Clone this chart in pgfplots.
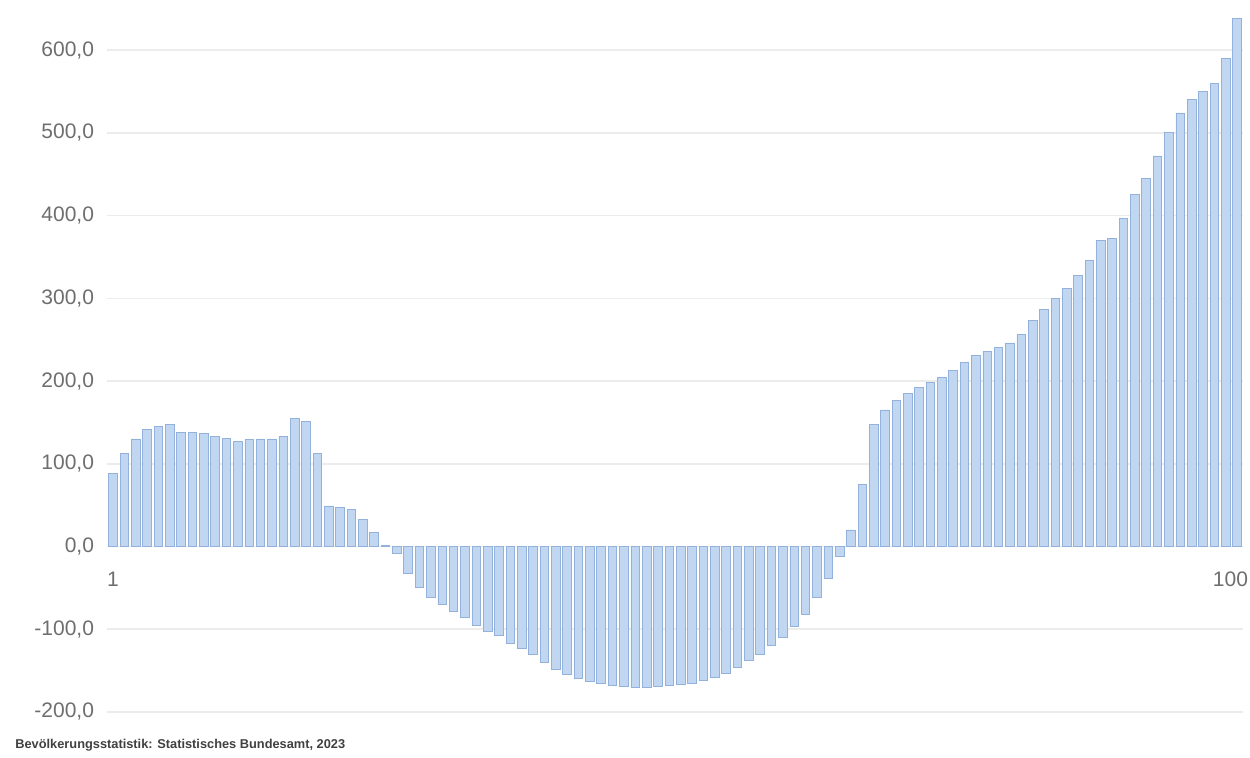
\documentclass[border=0pt]{standalone}
\usepackage{pgfplots}
\pgfplotsset{compat=1.18}
\usepackage{pgfplotstable}
\usepackage{fontspec}
\setmainfont{Liberation Sans}
\definecolor{barfill}{RGB}{192,214,241}
\definecolor{baredge}{RGB}{146,178,220}
\definecolor{gridc}{RGB}{236,236,236}
\definecolor{tickc}{RGB}{110,110,110}
\pgfplotstableread{
x y
1 88
2 113
3 130
4 142
5 145
6 148
7 138
8 138
9 137
10 133
11 131
12 127
13 129
14 130
15 130
16 133
17 155
18 151
19 112
20 49
21 47
22 45
23 33
24 17
25 1
26 -8
27 -32
28 -50
29 -62
30 -70
31 -78
32 -86
33 -95
34 -102
35 -108
36 -117
37 -123
38 -131
39 -140
40 -148
41 -155
42 -160
43 -163
44 -166
45 -168
46 -169
47 -170
48 -170
49 -169
50 -168
51 -167
52 -165
53 -162
54 -158
55 -153
56 -146
57 -138
58 -130
59 -120
60 -110
61 -97
62 -82
63 -62
64 -38
65 -12
66 20
67 75
68 148
69 165
70 177
71 185
72 192
73 198
74 205
75 213
76 222
77 231
78 236
79 241
80 246
81 256
82 273
83 287
84 300
85 312
86 328
87 346
88 370
89 372
90 396
91 425
92 445
93 472
94 500
95 524
96 540
97 550
98 560
99 590
100 638
}\datatable
\begin{document}
\begin{tikzpicture}
\path[use as bounding box] (-53.65pt,-23pt) rectangle (571.35pt,356pt);
\begin{axis}[
  at={(0,0)}, anchor=south west,
  scale only axis,
  width=567.7pt, height=347.5pt,
  xmin=0.5, xmax=100.5,
  ymin=-200, ymax=640,
  axis x line=middle,
  axis y line=left,
  axis line style={draw=none},
  major tick style={draw=none},
  xtick={1,100},
  xticklabels={1,{\makebox[11pt][r]{100}}},
  ytick={-200,-100,0,100,200,300,400,500,600},
  ymajorgrids,
  grid style={gridc, line width=0.8pt},
  tick label style={font=\fontsize{10.5}{12}\selectfont, text=tickc},
  xticklabel style={yshift=-5pt},
  yticklabel style={xshift=-1pt},
  /pgf/number format/.cd, fixed, fixed zerofill, precision=1, use comma, 1000 sep={}, assume math mode=true,
  /pgfplots/.cd,
  ybar, bar width=4.3pt,
  clip=false,
]
\addplot[fill=barfill, draw=baredge, line width=0.4pt] table[x=x,y=y] {\datatable};
\end{axis}
\node[anchor=west, font=\fontsize{6.4}{7.5}\selectfont\bfseries, text=black!75] at (-49.5pt,-16.5pt) {Bevölkerungsstatistik: Statistisches Bundesamt, 2023};
\end{tikzpicture}
\end{document}
